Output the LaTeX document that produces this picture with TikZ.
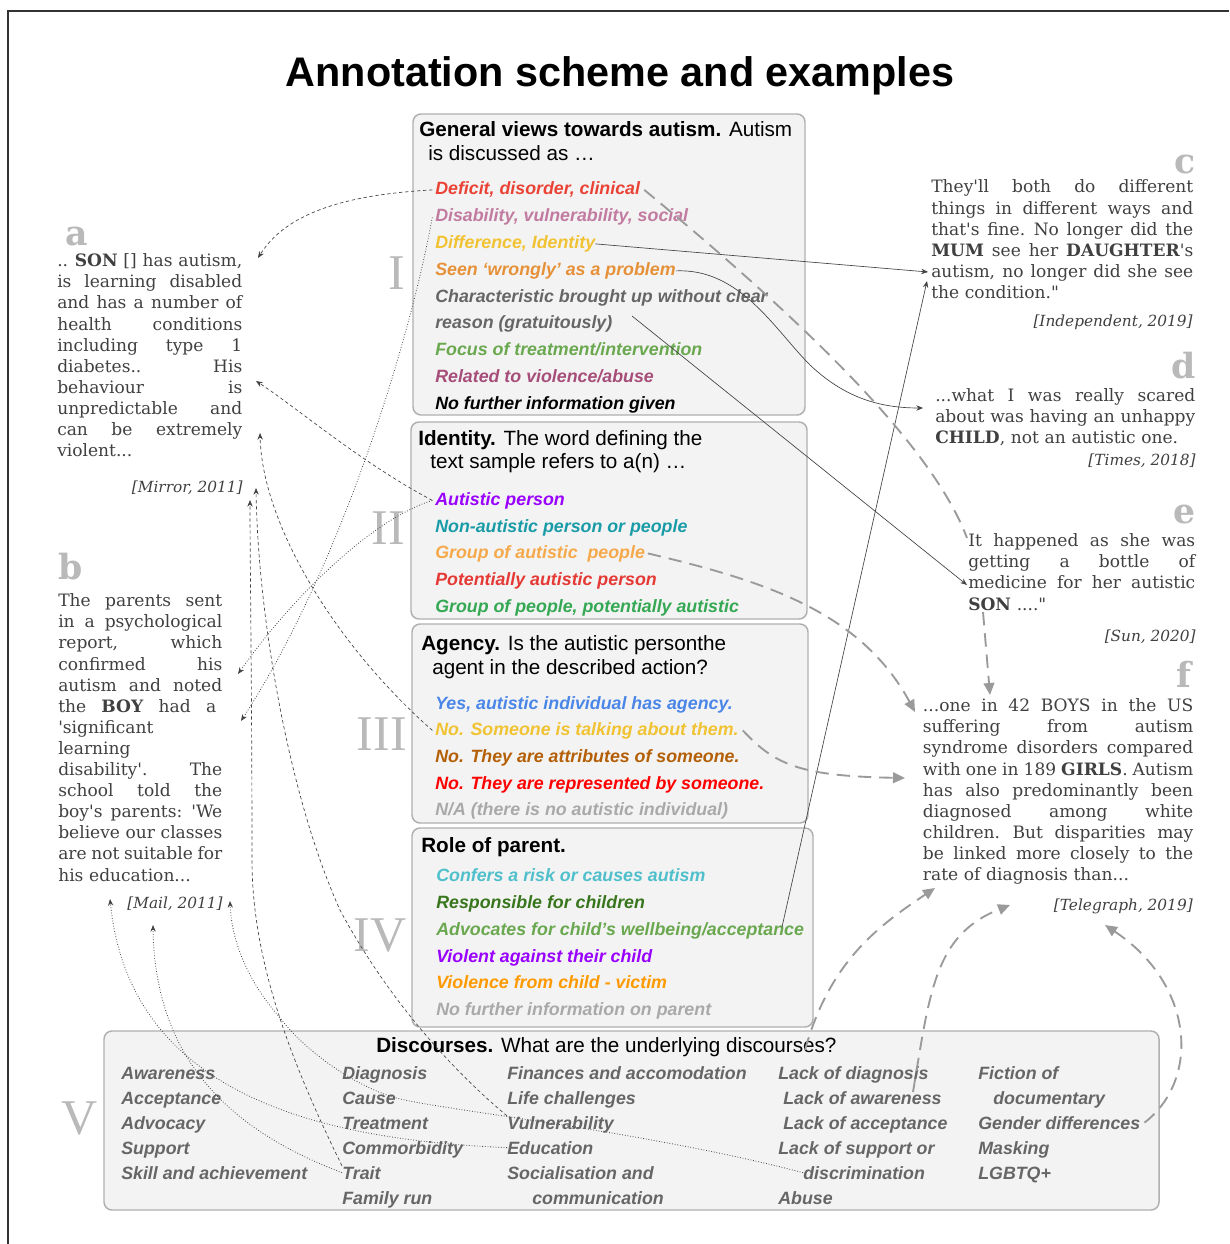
\documentclass[tikz,border=0pt]{standalone}
\usepackage{fontspec}
\setmainfont{Liberation Sans}
\newfontfamily\qfont{DejaVu Serif}
\newfontfamily\rnfont{Liberation Serif}
\usetikzlibrary{arrows.meta,calc}
\definecolor{boxfill}{HTML}{F3F3F3}
\definecolor{boxline}{HTML}{B0B0B0}
\definecolor{qtext}{HTML}{404040}
\definecolor{lblgray}{HTML}{B9B9B9}
\definecolor{dgray}{HTML}{666666}
\definecolor{cgray}{HTML}{444444}
\definecolor{ldgray}{HTML}{9A9A9A}
\definecolor{frm}{HTML}{333333}
\definecolor{cRedA}{HTML}{EA4335}
\definecolor{cPink}{HTML}{C27BA0}
\definecolor{cYellow}{HTML}{F1C232}
\definecolor{cOrangeA}{HTML}{E69138}
\definecolor{cGreenA}{HTML}{6AA84F}
\definecolor{cMagenta}{HTML}{A64D79}
\definecolor{cPurple}{HTML}{9900FF}
\definecolor{cTeal}{HTML}{1A9BA8}
\definecolor{cOrangeB}{HTML}{F6A94A}
\definecolor{cRedB}{HTML}{E53935}
\definecolor{cGreenB}{HTML}{34A853}
\definecolor{cBlue}{HTML}{4A86E8}
\definecolor{cBrown}{HTML}{B45F06}
\definecolor{cRedC}{HTML}{FF0000}
\definecolor{cGrayC}{HTML}{A9A9A9}
\definecolor{cCyan}{HTML}{4EBFCB}
\definecolor{cDkGreen}{HTML}{38761D}
\definecolor{cOrangeC}{HTML}{FF9900}
\newlength\qwid
\newcommand\jline[1]{\leavevmode\hbox to \qwid{\spaceskip=0.3em plus 3em minus 0.13em\xspaceskip=0.35em plus 3em minus 0.13em\relax #1}}
\begin{document}
\begin{tikzpicture}[x=0.75pt,y=-0.75pt,
  cbox/.style={draw=boxline, fill=boxfill, rounded corners=6pt, line width=1.1pt},
  hd/.style={anchor=base west, inner sep=0pt, font=\fontsize{15.5pt}{18pt}\selectfont},
  itm/.style={anchor=base west, inner sep=0pt, font=\fontsize{13.35pt}{16pt}\selectfont\bfseries\itshape},
  dsc/.style={itm, text=dgray},
  qt/.style={anchor=base west, inner sep=0pt, align=left, text=qtext, font=\qfont\fontsize{12.8pt}{15.83pt}\selectfont},
  srcst/.style={anchor=base east, inner sep=0pt, text=qtext, font=\qfont\itshape\fontsize{11.5pt}{14pt}\selectfont},
  lbl/.style={inner sep=0pt, text=lblgray, font=\qfont\bfseries\fontsize{26pt}{30pt}\selectfont},
  rn/.style={anchor=base east, inner sep=0pt, text=lblgray, font=\rnfont\fontsize{37.5pt}{40pt}\selectfont},
  thinarrow/.style={-{Stealth[length=5pt,width=4pt]}, draw=cgray, line width=0.5pt},
  dashln/.style={thinarrow, dash pattern=on 2.5pt off 2pt},
  dotln/.style={thinarrow, line width=0.6pt, dash pattern=on 0.6pt off 1.4pt},
  solidln/.style={thinarrow},
  longdash/.style={-{Triangle[length=9pt,width=8pt]}, draw=ldgray, line width=1.4pt, dash pattern=on 10pt off 6pt}
]
\useasboundingbox (0,0) rectangle (1229,1244);
\fill[white] (0,0) rectangle (1229,1244);
\draw[frm, line width=1.1pt] (8,1244) -- (8,11) -- (1229,11);

% title
\node[anchor=base, inner sep=0pt, font=\bfseries\fontsize{31pt}{36pt}\selectfont] (title) at (620,87) {Annotation scheme and examples};

% boxes
\draw[cbox] (413,114) rectangle (805,415);
\draw[cbox] (411,422) rectangle (807,619);
\draw[cbox] (412,624) rectangle (808,823);
\draw[cbox] (412,828) rectangle (813,1027);
\draw[cbox] (104,1031) rectangle (1159,1210);

% roman numerals
\node[rn] (r1) at (405,290) {I};
\node[rn] (r2) at (405,544) {II};
\node[rn] (r3) at (407,750) {III};
\node[rn] (r4) at (407,951) {IV};
\node[rn] (r5) at (98,1134) {V};

% Box I
\node[hd] (h1a) at (419,137) {\textbf{General views towards autism.} Autism};
\node[hd] (h1b) at (428,161) {is discussed as …};
\node[itm, text=cRedA] (i1) at (435,195) {Deficit, disorder, clinical};
\node[itm, text=cPink] (i2) at (435,222) {Disability, vulnerability, social};
\node[itm, text=cYellow] (i3) at (435,248.5) {Difference, Identity};
\node[itm, text=cOrangeA] (i4) at (435,275.5) {Seen ‘wrongly’ as a problem};
\node[itm, text=dgray] (i5) at (435,302) {Characteristic brought up without clear};
\node[itm, text=dgray] (i6) at (435,329) {reason (gratuitously)};
\node[itm, text=cGreenA] (i7) at (435,355.5) {Focus of treatment/intervention};
\node[itm, text=cMagenta] (i8) at (435,382.5) {Related to violence/abuse};
\node[itm, text=black] (i9) at (435,409.5) {No further information given};

% Box II
\node[hd] (h2a) at (418,445) {\textbf{Identity.} The word defining the};
\node[hd] (h2b) at (430,468) {text sample refers to a(n) …};
\node[itm, text=cPurple] (j1) at (435,505) {Autistic person};
\node[itm, text=cTeal] (j2) at (435,532) {Non-autistic person or people};
\node[itm, text=cOrangeB] (j3) at (435,558) {Group of autistic\ \ people};
\node[itm, text=cRedB] (j4) at (435,585) {Potentially autistic person};
\node[itm, text=cGreenB] (j5) at (435,612) {Group of people, potentially autistic};

% Box III
\node[hd] (h3a) at (421,650) {\textbf{Agency.} Is the autistic personthe};
\node[hd] (h3b) at (432,674) {agent in the described action?};
\node[itm, text=cBlue] (k1) at (435,709) {Yes, autistic individual has agency.};
\node[itm, text=cYellow] (k2) at (435,735) {No. Someone is talking about them.};
\node[itm, text=cBrown] (k3) at (435,762) {No. They are attributes of someone.};
\node[itm, text=cRedC] (k4) at (435,789) {No. They are represented by someone.};
\node[itm, text=cGrayC] (k5) at (435,815) {N/A (there is no autistic individual)};

% Box IV
\node[hd] (h4a) at (421,852) {\textbf{Role of parent.}};
\node[itm, text=cCyan] (m1) at (436,881) {Confers a risk or causes autism};
\node[itm, text=cDkGreen] (m2) at (436,908) {Responsible for children};
\node[itm, text=cGreenA] (m3) at (436,935) {Advocates for child’s wellbeing/acceptance};
\node[itm, text=cPurple] (m4) at (436,962) {Violent against their child};
\node[itm, text=cOrangeC] (m5) at (436,988) {Violence from child - victim};
\node[itm, text=cGrayC] (m6) at (436,1015) {No further information on parent};

% Box V
\node[hd] (h5) at (376,1052) {\textbf{Discourses.} What are the underlying discourses?};
\node[dsc] (d11) at (121,1079) {Awareness};
\node[dsc] (d12) at (121,1104) {Acceptance};
\node[dsc] (d13) at (121,1129) {Advocacy};
\node[dsc] (d14) at (121,1154) {Support};
\node[dsc] (d15) at (121,1179) {Skill and achievement};
\node[dsc] (d21) at (342,1079) {Diagnosis};
\node[dsc] (d22) at (342,1104) {Cause};
\node[dsc] (d23) at (342,1129) {Treatment};
\node[dsc] (d24) at (342,1154) {Commorbidity};
\node[dsc] (d25) at (342,1179) {Trait};
\node[dsc] (d26) at (342,1204) {Family run};
\node[dsc] (d31) at (507,1079) {Finances and accomodation};
\node[dsc] (d32) at (507,1104) {Life challenges};
\node[dsc] (d33) at (507,1129) {Vulnerability};
\node[dsc] (d34) at (507,1154) {Education};
\node[dsc] (d35) at (507,1179) {Socialisation and};
\node[dsc] (d36) at (532,1204) {communication};
\node[dsc] (d41) at (778,1079) {Lack of diagnosis};
\node[dsc] (d42) at (783,1104) {Lack of awareness};
\node[dsc] (d43) at (783,1129) {Lack of acceptance};
\node[dsc] (d44) at (778,1154) {Lack of support or};
\node[dsc] (d45) at (803,1179) {discrimination};
\node[dsc] (d46) at (778,1204) {Abuse};
\node[dsc] (d51) at (978,1079) {Fiction of};
\node[dsc] (d52) at (993,1104) {documentary};
\node[dsc] (d53) at (978,1129) {Gender differences};
\node[dsc] (d54) at (978,1154) {Masking};
\node[dsc] (d55) at (978,1179) {LGBTQ+};

% quote labels
\node[lbl, anchor=base west] (la) at (65,246) {a};
\node[lbl, anchor=base west] (lb) at (58,579) {b};
\node[lbl, anchor=base east] (lc) at (1196,174) {c};
\node[lbl, anchor=base east] (ld) at (1196,378) {d};
\node[lbl, anchor=base east] (le) at (1196,523) {e};
\node[lbl, anchor=base east] (lf) at (1192,687) {f};

% quotes
\node[qt, text width=138.75pt] (qa) at (57,266.7) {\setlength\qwid{138.75pt}%
\jline{.. \textbf{SON} [] has autism,}\\
\jline{is learning disabled}\\
\jline{and has a number of}\\
\jline{health conditions}\\
\jline{including type 1}\\
\jline{diabetes.. His}\\
\jline{behaviour is}\\
\jline{unpredictable and}\\
\jline{can be extremely}\\
violent...};
\node[srcst] (sa) at (243,492) {[Mirror, 2011]};

\node[qt, text width=123pt] (qb) at (58,606.7) {\setlength\qwid{123pt}%
\jline{The parents sent}\\
\jline{in a psychological}\\
\jline{report, which}\\
\jline{confirmed his}\\
\jline{autism and noted}\\
\leavevmode\hbox to 118.5pt{\spaceskip=0.3em plus 3em\relax the \textbf{BOY} had a}\\
'significant\\
learning\\
\jline{disability'. The}\\
\jline{school told the}\\
\jline{boy's parents: 'We}\\
\jline{believe our classes}\\
\jline{are not suitable for}\\
his education...};
\node[srcst] (sb) at (223,908) {[Mail, 2011]};

\node[qt, text width=196.5pt] (qc) at (931,193) {\setlength\qwid{196.5pt}%
\jline{They'll both do different}\\
\jline{things in different ways and}\\
\jline{that's fine. No longer did the}\\
\jline{\textbf{MUM} see her \textbf{DAUGHTER}'s}\\
\jline{autism, no longer did she see}\\
the condition."};
\node[srcst] (sc) at (1193,326) {[Independent, 2019]};

\node[qt, text width=195pt] (qd) at (935,401.7) {\setlength\qwid{195pt}%
\jline{...what I was really scared}\\
\jline{about was having an unhappy}\\
\textbf{CHILD}, not an autistic one.};
\node[srcst] (sd) at (1196,465) {[Times, 2018]};

\node[qt, text width=170.25pt] (qe) at (968,546.7) {\setlength\qwid{170.25pt}%
\jline{It happened as she was}\\
\jline{getting a bottle of}\\
\jline{medicine for her autistic}\\
\textbf{SON} ...."};
\node[srcst] (se) at (1196,641) {[Sun, 2020]};

\node[qt, text width=202.7pt] (qf) at (922.7,711.7) {\setlength\qwid{202.7pt}%
\jline{...one in 42 BOYS in the US}\\
\jline{suffering from autism}\\
\jline{syndrome disorders compared}\\
\jline{with one in 189 \textbf{GIRLS}. Autism}\\
\jline{has also predominantly been}\\
\jline{diagnosed among white}\\
\jline{children. But disparities may}\\
\jline{be linked more closely to the}\\
rate of diagnosis than...};
\node[srcst] (sf) at (1193,910) {[Telegraph, 2019]};

% arrow targets and free ends
\coordinate (ta1) at (258,258);
\coordinate (ta2) at (256,381);
\coordinate (ta3) at (260,433);
\coordinate (ta4) at (256,488);
\coordinate (ta5) at (250,500);
\coordinate (tb1) at (238,674);
\coordinate (tb2) at (241,721);
\coordinate (tb3) at (110,899);
\coordinate (tb4) at (153,925);
\coordinate (tb5) at (230,901);
\coordinate (tc1) at (928,272);
\coordinate (tc2) at (927,281);
\coordinate (td) at (923,408);
\coordinate (te) at (967,585);
\coordinate (tf1) at (990,695);
\coordinate (tf2) at (915,712);
\coordinate (tf3) at (905,778);
\coordinate (tf4) at (935,888);
\coordinate (tf5) at (1010,905);
\coordinate (tf6) at (1105,925);
\coordinate (chs) at (632,316);
\coordinate (advs) at (782,927);
\coordinate (gapA) at (967,538);
\coordinate (gapB) at (983,612);
\coordinate (lds) at (805,1050);
\coordinate (las) at (913,1092);

% thin dashed / dotted connectors
\draw[dashln] ([xshift=-2pt]i1.west) .. controls (340,195) and (285,215) .. (ta1);
\draw[dotln] ([xshift=-2pt]i2.west) .. controls (412,330) and (345,560) .. (tb2);
\draw[dashln] ([xshift=-2pt]j1.west) .. controls (360,462) and (300,410) .. (ta2);
\draw[dotln] ([xshift=-2pt]j1.west) .. controls (370,520) and (290,600) .. (tb1);
\draw[dashln] ([xshift=-2pt]k2.west) .. controls (330,640) and (262,520) .. (ta3);
\draw[dashln] (d33.north west) .. controls (440,1060) and (380,985) .. (340,910) .. controls (290,800) and (258,620) .. (ta4);
\draw[dashln] (d25.north west) .. controls (290,1060) and (252,960) .. (252,860) .. controls (252,700) and (250,560) .. (ta5);
\draw[dotln] (d34.west) .. controls (330,1140) and (130,1100) .. (tb3);
\draw[dotln] (d25.west) .. controls (230,1130) and (155,1060) .. (tb4);
\draw[dotln] (d45.west) .. controls (640,1130) and (440,1110) .. (d22.east) .. controls (350,1085) and (300,1045) .. (282,1020) .. controls (255,990) and (232,950) .. (tb5);

% thin solid connectors
\draw[solidln] (i3.east) -- (tc1);
\draw[solidln] (i4.east) .. controls (740,268) and (775,330) .. (810,365) .. controls (845,398) and (880,408) .. (td);
\draw[solidln] (chs) -- (te);
\draw[solidln] (advs) -- (tc2);

% long dashed grey connectors
\draw[longdash] ([xshift=3pt]i1.east) .. controls (790,310) and (930,440) .. (gapA) (gapB) -- (tf1);
\draw[longdash] ([xshift=2pt]j3.east) .. controls (760,580) and (860,610) .. (tf2);
\draw[longdash] ([xshift=3pt]k2.east) .. controls (775,765) and (800,776) .. (tf3);
\draw[longdash] (lds) .. controls (830,960) and (880,925) .. (tf4);
\draw[longdash] (las) .. controls (930,990) and (935,935) .. (tf5);
\draw[longdash] ([xshift=3pt]d53.east) .. controls (1200,1080) and (1195,985) .. (tf6);
\end{tikzpicture}
\end{document}
